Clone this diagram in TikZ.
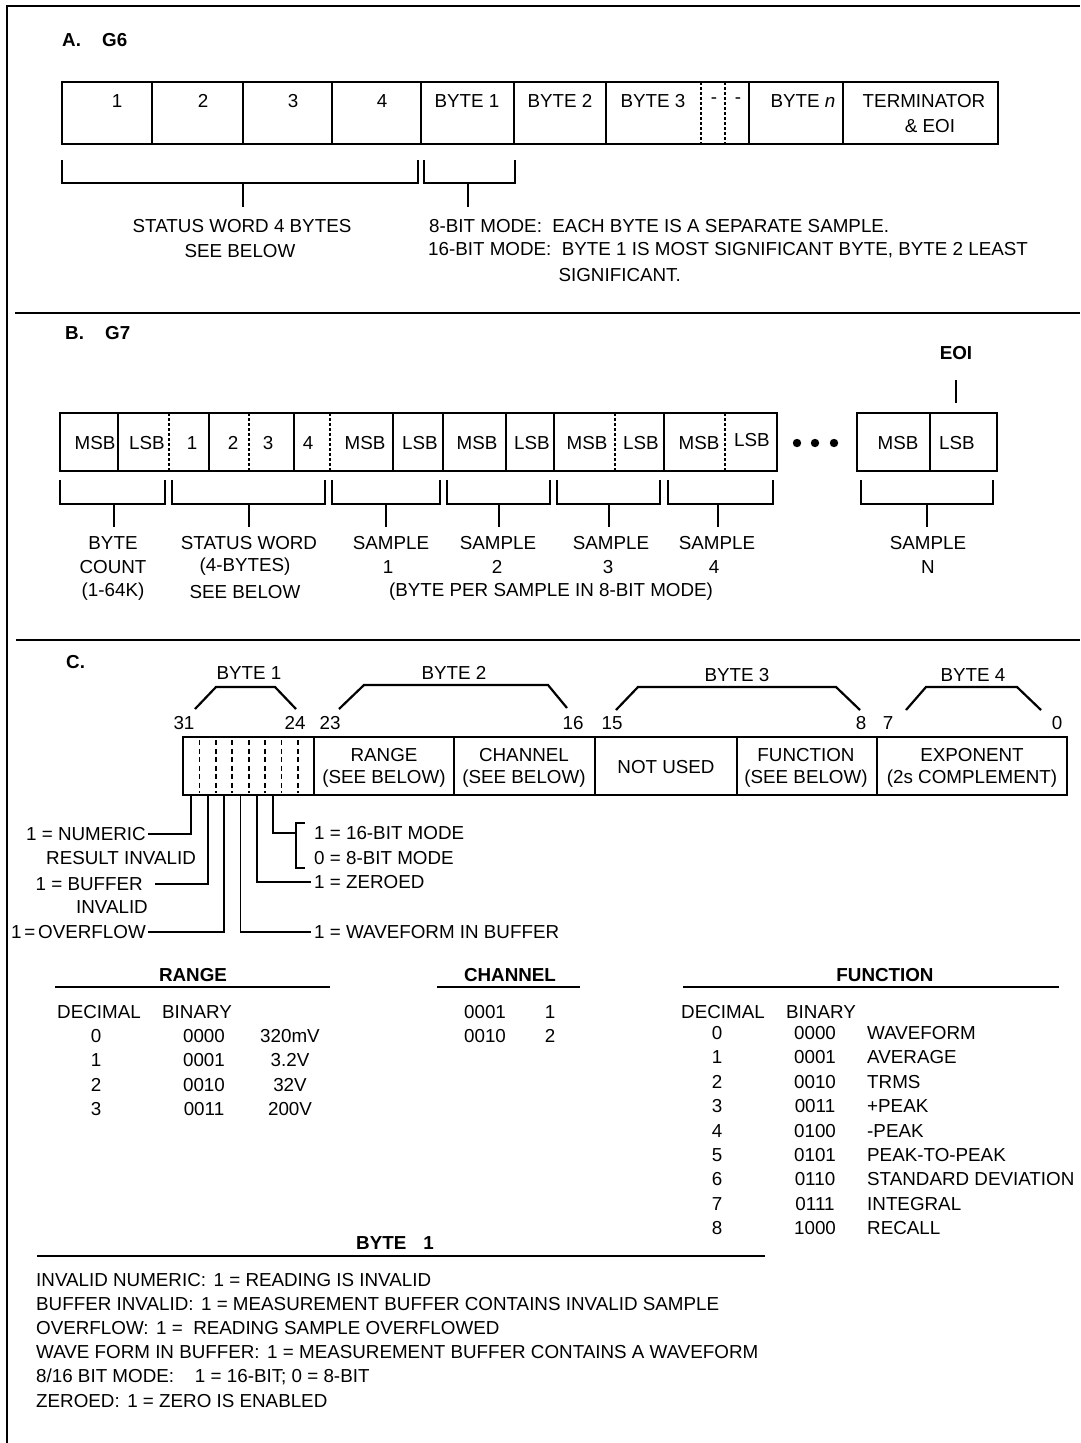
\documentclass[tikz,border=0pt]{standalone}
\usepackage{fontspec}
\setmainfont{Liberation Sans}
\newcommand{\fsz}{\fontsize{18.8}{24.5}\selectfont}
\tikzset{
  txt/.style={inner sep=0pt, font=\fsz},
  btxt/.style={inner sep=0pt, font=\fsz\bfseries},
  frameline/.style={line width=1.6pt},
  sepline/.style={line width=2.4pt},
  boxline/.style={line width=2.4pt},
  dashline/.style={line width=1.4pt, dash pattern=on 3pt off 2pt},
  brk/.style={line width=2.2pt},
  lead/.style={line width=1.8pt},
  bitdash/.style={line width=1.8pt, dash pattern=on 5pt off 3.5pt},
}
\begin{document}
\begin{tikzpicture}[x=1pt, y=-1pt]
\useasboundingbox (0,0) rectangle (1080,1443);
\fill[white] (0,0) rectangle (1080,1443);

% frame and separators
\draw[frameline] (7,1443) -- (7,6) -- (1080,6);
\draw[sepline] (15,313) -- (1080,313);
\draw[sepline] (16,640) -- (1080,640);

% ================= Section A =================
\node[btxt, anchor=west] (lblA) at (62,40) {A.};
\node[btxt, anchor=west] (lblG6) at (102,40) {G6};

\draw[boxline] (62,82) rectangle (998,144);
\foreach \x in {152,243,332,421,514,606,749,843} \draw[boxline] (\x,82) -- (\x,144);
\foreach \x in {701,725} \draw[dashline] (\x,82) -- (\x,144);

\node[txt] (a1) at (117,101) {1};
\node[txt] (a2) at (203,101) {2};
\node[txt] (a3) at (293,101) {3};
\node[txt] (a4) at (382,101) {4};
\node[txt] (ab1) at (467,101) {BYTE 1};
\node[txt] (ab2) at (560,101) {BYTE 2};
\node[txt] (ab3) at (653,101) {BYTE 3};
\node[txt] (ad1) at (714,101) {-};
\node[txt] (ad2) at (738,101) {-};
\node[txt] (abn) at (803,101) {BYTE \textit{n}};
\node[txt] (aterm) at (924,101) {TERMINATOR};
\node[txt] (aeoi) at (930,126) {\& EOI};

\draw[brk] (62,160) -- (62,183) -- (418,183) -- (418,160);
\draw[brk] (243,183) -- (243,207);
\draw[brk] (424,160) -- (424,183) -- (515,183) -- (515,160);
\draw[brk] (468,183) -- (468,207);

\node[txt] (asw) at (242,226) {STATUS WORD 4 BYTES};
\node[txt] (asee) at (240,251) {SEE BELOW};
\node[txt, anchor=west] (a8bit) at (429,226) {8-BIT MODE:\ \ EACH BYTE IS A SEPARATE SAMPLE.};
\node[txt, anchor=west] (a16bit) at (428,250) {16-BIT MODE:\ \ BYTE 1 IS MOST SIGNIFICANT BYTE, BYTE 2\ LEAST};
\node[txt, anchor=east] (asig) at (681,275) {SIGNIFICANT.};

% ================= Section B =================
\node[btxt, anchor=west] (lblB) at (65,333) {B.};
\node[btxt, anchor=west] (lblG7) at (105,333) {G7};
\node[btxt] (eoi) at (956,353) {EOI};
\draw[brk] (956,380) -- (956,403);

\draw[boxline] (60,413) rectangle (777,471);
\foreach \x in {118,209,294,393,443,506,554,664} \draw[boxline] (\x,413) -- (\x,471);
\foreach \x in {169,249,330,615,725} \draw[dashline] (\x,413) -- (\x,471);
\draw[boxline] (857,413) rectangle (997,471);
\draw[boxline] (930,413) -- (930,471);

\node[txt] (bm0) at (95,443) {MSB};
\node[txt] (bl0) at (147,443) {LSB};
\node[txt] (bs1) at (192,443) {1};
\node[txt] (bs2) at (233,443) {2};
\node[txt] (bs3) at (268,443) {3};
\node[txt] (bs4) at (308,443) {4};
\node[txt] (bm1) at (365,443) {MSB};
\node[txt] (bl1) at (420,443) {LSB};
\node[txt] (bm2) at (477,443) {MSB};
\node[txt] (bl2) at (532,443) {LSB};
\node[txt] (bm3) at (587,443) {MSB};
\node[txt] (bl3) at (641,443) {LSB};
\node[txt] (bm4) at (699,443) {MSB};
\node[txt] (bl4) at (752,440) {LSB};
\foreach \x in {797,815,834} \fill (\x,443) circle (4.2);
\node[txt] (bmn) at (898,443) {MSB};
\node[txt] (bln) at (957,443) {LSB};

\foreach \l/\r/\s in {60/165/114, 172/325/249, 332/440/386, 447/550/499, 557/660/609, 668/773/718, 861/993/927} {
  \draw[brk] (\l,480) -- (\l,504) -- (\r,504) -- (\r,480);
  \draw[brk] (\s,504) -- (\s,527);
}

\node[txt] (bbyte) at (113,543) {BYTE};
\node[txt] (bcount) at (113,567) {COUNT};
\node[txt] (brng) at (113,592) {(1-64K)};
\node[txt] (bsw) at (249,543) {STATUS WORD};
\node[txt] (b4b) at (245,567) {(4-BYTES)};
\node[txt] (bsee) at (245,592) {SEE BELOW};
\node[txt] (bsa1) at (391,543) {SAMPLE};
\node[txt] (bn1) at (388,567) {1};
\node[txt] (bsa2) at (498,543) {SAMPLE};
\node[txt] (bn2) at (497,567) {2};
\node[txt] (bsa3) at (611,543) {SAMPLE};
\node[txt] (bn3) at (608,567) {3};
\node[txt] (bsa4) at (717,543) {SAMPLE};
\node[txt] (bn4) at (714,567) {4};
\node[txt] (bsan) at (928,543) {SAMPLE};
\node[txt] (bnn) at (928,567) {N};
\node[txt] (bper) at (551,592) {(BYTE PER SAMPLE IN 8-BIT MODE)};

% ================= Section C =================
\node[btxt, anchor=west] (lblC) at (66,662) {C.};

\node[txt] (cb1) at (249,673) {BYTE 1};
\node[txt] (cb2) at (454,673) {BYTE 2};
\node[txt] (cb3) at (737,675) {BYTE 3};
\node[txt] (cb4) at (973,675) {BYTE 4};
\draw[brk] (195,709) -- (216,687) -- (275,687) -- (296,709);
\draw[brk] (339,709) -- (364,685) -- (548,685) -- (567,708);
\draw[brk] (616,710) -- (638,687) -- (836,687) -- (860,710);
\draw[brk] (906,710) -- (926,687) -- (1017,687) -- (1041,710);

\node[txt] (n31) at (184,723) {31};
\node[txt] (n24) at (295,723) {24};
\node[txt] (n23) at (330,723) {23};
\node[txt] (n16) at (573,723) {16};
\node[txt] (n15) at (612,723) {15};
\node[txt] (n8) at (861,723) {8};
\node[txt] (n7) at (888,723) {7};
\node[txt] (n0) at (1057,723) {0};

\draw[boxline] (183,737) rectangle (1067,795);
\foreach \x in {314,454,595,737,877} \draw[boxline] (\x,737) -- (\x,795);
\foreach \i in {1,...,7} \draw[bitdash] ({183+16.4*\i},740) -- ({183+16.4*\i},793);

\node[txt] (crange) at (384,755) {RANGE};
\node[txt] (crsee) at (384,779) {(SEE BELOW)};
\node[txt] (cchan) at (524,755) {CHANNEL};
\node[txt] (ccsee) at (524,779) {(SEE BELOW)};
\node[txt] (cnot) at (666,767) {NOT USED};
\node[txt] (cfunc) at (806,755) {FUNCTION};
\node[txt] (cfsee) at (806,779) {(SEE BELOW)};
\node[txt] (cexp) at (972,755) {EXPONENT};
\node[txt] (ccomp) at (972,779) {(2s COMPLEMENT)};

\coordinate (b31) at (191.2,795);
\coordinate (b30) at (207.6,795);
\coordinate (b29) at (224,795);
\coordinate (b28) at (240.4,795);
\coordinate (b27) at (256.8,795);
\coordinate (b26) at (273.2,795);

\node[txt, anchor=east] (lnum) at (146,834) {1 = NUMERIC};
\draw[lead] (b31) |- ([xshift=2]lnum.east);
\node[txt, anchor=west] (lres) at (46,858) {RESULT INVALID};
\node[txt, anchor=east] (lbuf) at (143,884) {1 = BUFFER};
\draw[lead] (b30) |- ([xshift=12]lbuf.east);
\node[txt, anchor=east] (linv) at (148,907) {INVALID};
\node[txt, anchor=east] (lovf) at (146,932) {1\hspace{0.15em}=\hspace{0.15em}OVERFLOW};
\draw[lead] (b29) |- ([xshift=2]lovf.east);
\node[txt, anchor=west] (lwav) at (314,932) {1 = WAVEFORM IN BUFFER};
\draw[lead] (b28) |- ([xshift=-3]lwav.west);
\node[txt, anchor=west] (lzer) at (314,882) {1 = ZEROED};
\draw[lead] (b27) |- ([xshift=-3]lzer.west);
\node[txt, anchor=west] (l16) at (314,833) {1 = 16-BIT MODE};
\node[txt, anchor=west] (l8) at (314,858) {0 = 8-BIT MODE};
\coordinate (brm) at (296,833);
\draw[lead] (b26) |- (brm);
\draw[lead] (305,823) -- (296,823) -- (296,868) -- (305,868);

% ================= Tables =================
\node[btxt] (trange) at (193,975) {RANGE};
\draw[boxline] (55,987) -- (330,987);
\node[txt, anchor=west] (trdec) at (57,1012) {DECIMAL};
\node[txt, anchor=west] (trbin) at (162,1012) {BINARY};
\foreach \d/\b/\v [count=\k from 0] in {0/0000/320mV, 1/0001/3.2V, 2/0010/32V, 3/0011/200V} {
  \node[txt] (trd\k) at (96,{1036+24.5*\k}) {\d};
  \node[txt] (trb\k) at (204,{1036+24.5*\k}) {\b};
  \node[txt] (trv\k) at (290,{1036+24.5*\k}) {\v};
}

\node[btxt] (tchan) at (510,975) {CHANNEL};
\draw[boxline] (437,987) -- (580,987);
\node[txt] (tc1b) at (485,1012) {0001};
\node[txt] (tc1v) at (550,1012) {1};
\node[txt] (tc2b) at (485,1036) {0010};
\node[txt] (tc2v) at (550,1036) {2};

\node[btxt] (tfunc) at (885,975) {FUNCTION};
\draw[boxline] (683,987) -- (1059,987);
\node[txt, anchor=west] (tfdec) at (681,1012) {DECIMAL};
\node[txt, anchor=west] (tfbin) at (786,1012) {BINARY};
\foreach \d/\b/\v [count=\k from 0] in {0/0000/WAVEFORM, 1/0001/AVERAGE, 2/0010/TRMS, 3/0011/+PEAK, 4/0100/-PEAK, 5/0101/PEAK-TO-PEAK, 6/0110/STANDARD DEVIATION, 7/0111/INTEGRAL, 8/1000/RECALL} {
  \node[txt] (tfd\k) at (717,{1033+24.4*\k}) {\d};
  \node[txt] (tfb\k) at (815,{1033+24.4*\k}) {\b};
  \node[txt, anchor=west] (tfv\k) at (867,{1033+24.4*\k}) {\v};
}

% ================= Byte 1 notes =================
\node[btxt] (nbyte) at (395,1243) {BYTE\hspace{0.9em}1};
\draw[boxline] (37,1256) -- (765,1256);
\node[txt, anchor=west] (nt1) at (36,1280) {INVALID NUMERIC:\hspace{0.4em}1 = READING IS INVALID};
\node[txt, anchor=west] (nt2) at (36,1304) {BUFFER INVALID:\hspace{0.4em}1 = MEASUREMENT BUFFER CONTAINS INVALID SAMPLE};
\node[txt, anchor=west] (nt3) at (36,1328) {OVERFLOW:\hspace{0.4em}1 =\ \ READING SAMPLE OVERFLOWED};
\node[txt, anchor=west] (nt4) at (36,1352) {WAVE FORM IN BUFFER:\hspace{0.4em}1 = MEASUREMENT BUFFER CONTAINS A WAVEFORM};
\node[txt, anchor=west] (nt5) at (36,1377) {8/16 BIT MODE:\ \ \ \ 1 = 16-BIT; 0 = 8-BIT};
\node[txt, anchor=west] (nt6) at (36,1401) {ZEROED:\hspace{0.4em}1 = ZERO IS ENABLED};
\end{tikzpicture}
\end{document}
